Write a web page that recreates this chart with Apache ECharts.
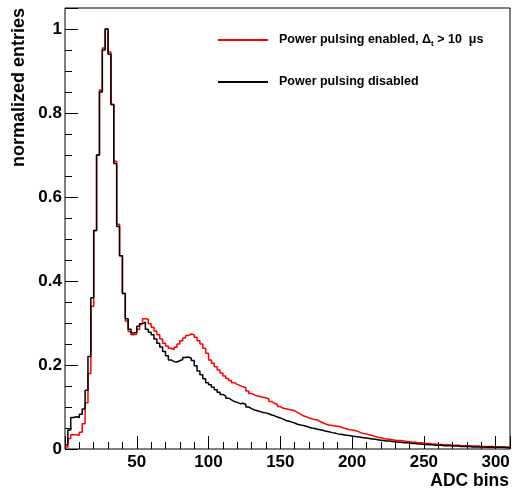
<!DOCTYPE html>
<html>
<head>
<meta charset="utf-8">
<style>
  html, body { margin: 0; padding: 0; background: #fff; }
  #chart { width: 514px; height: 492px; }
</style>
<script src="https://cdn.jsdelivr.net/npm/echarts@6/dist/echarts.min.js"></script>
</head>
<body>
<div id="chart"></div>
<script>
// ADC spectrum, histogram with 2-unit bins starting at 0
const binWidth = 2;
const xMin = 0;
const xMax = 310;
const yMax = 1.05;

const xTickValues = [50, 100, 150, 200, 250, 300];
const yTickValues = [0, 0.2, 0.4, 0.6, 0.8, 1];

// normalized entries per bin, power pulsing disabled
const disabledCounts = [
  0.010, 0.045, 0.075, 0.077, 0.075, 0.083, 0.095, 0.140, 0.220, 0.360,
  0.520, 0.700, 0.850, 0.950, 1.000, 0.940, 0.820, 0.680, 0.530, 0.460,
  0.370, 0.310, 0.285, 0.276, 0.278, 0.292, 0.298, 0.302, 0.285, 0.278,
  0.272, 0.262, 0.252, 0.243, 0.232, 0.222, 0.212, 0.208, 0.207, 0.210,
  0.213, 0.218, 0.219, 0.216, 0.211, 0.198, 0.186, 0.177, 0.167, 0.158,
  0.153, 0.147, 0.141, 0.135, 0.130, 0.126, 0.121, 0.117, 0.113, 0.111,
  0.108, 0.109, 0.106, 0.100, 0.096, 0.093, 0.091, 0.089, 0.087, 0.086,
  0.084, 0.081, 0.079, 0.076, 0.074, 0.071, 0.068, 0.066, 0.064, 0.062,
  0.059, 0.057, 0.056, 0.054, 0.052, 0.050, 0.049, 0.047, 0.046, 0.044,
  0.042, 0.041, 0.039, 0.038, 0.036, 0.035, 0.034, 0.033, 0.032, 0.031,
  0.030, 0.029, 0.028, 0.027, 0.026, 0.025, 0.024, 0.023, 0.022, 0.021,
  0.020, 0.019, 0.019, 0.018, 0.017, 0.016, 0.016, 0.015, 0.015, 0.014,
  0.013, 0.013, 0.012, 0.012, 0.011, 0.011, 0.010, 0.010, 0.009, 0.009,
  0.009, 0.008, 0.008, 0.008, 0.007, 0.007, 0.007, 0.006, 0.006, 0.006,
  0.006, 0.005, 0.005, 0.005, 0.005, 0.005, 0.004, 0.004, 0.004, 0.004,
  0.004, 0.004, 0.004, 0.003, 0.003
];

// normalized entries per bin, power pulsing enabled (Δt > 10 μs)
const enabledCounts = [
  0.005, 0.025, 0.034, 0.034, 0.033, 0.040, 0.060, 0.110, 0.180, 0.340,
  0.520, 0.700, 0.855, 0.955, 1.000, 0.945, 0.820, 0.685, 0.535, 0.460,
  0.370, 0.305, 0.280, 0.272, 0.274, 0.285, 0.298, 0.310, 0.309, 0.298,
  0.290, 0.281, 0.272, 0.262, 0.252, 0.245, 0.240, 0.237, 0.242, 0.250,
  0.258, 0.264, 0.270, 0.274, 0.272, 0.266, 0.258, 0.250, 0.240, 0.228,
  0.212, 0.204, 0.196, 0.188, 0.181, 0.174, 0.168, 0.163, 0.158, 0.154,
  0.151, 0.148, 0.146, 0.138, 0.132, 0.129, 0.126, 0.125, 0.123, 0.122,
  0.119, 0.113, 0.109, 0.106, 0.101, 0.097, 0.096, 0.094, 0.093, 0.091,
  0.087, 0.083, 0.079, 0.077, 0.074, 0.072, 0.070, 0.069, 0.065, 0.062,
  0.059, 0.057, 0.056, 0.055, 0.054, 0.053, 0.050, 0.048, 0.046, 0.045,
  0.044, 0.042, 0.039, 0.037, 0.036, 0.034, 0.032, 0.030, 0.028, 0.027,
  0.025, 0.024, 0.023, 0.022, 0.021, 0.020, 0.020, 0.019, 0.018, 0.017,
  0.016, 0.016, 0.015, 0.015, 0.014, 0.013, 0.013, 0.012, 0.012, 0.011,
  0.011, 0.010, 0.010, 0.010, 0.009, 0.009, 0.009, 0.008, 0.008, 0.008,
  0.008, 0.007, 0.007, 0.007, 0.006, 0.006, 0.006, 0.006, 0.006, 0.005,
  0.005, 0.005, 0.005, 0.005, 0.005
];

const seriesNames = ['Power pulsing enabled', 'Power pulsing disabled'];

// Turn bin contents into [lowEdge, value] pairs plus the closing edge
function histogramPoints(counts) {
  const pts = counts.map((v, i) => [xMin + i * binWidth, v]);
  pts.push([xMin + counts.length * binWidth, counts[counts.length - 1]]);
  return pts;
}

const FONT = '"Liberation Sans", Arial, Helvetica, sans-serif';

const chart = echarts.init(document.getElementById('chart'), null, { renderer: 'canvas' });

const labelStyle = { fontFamily: FONT, fontWeight: 'bold', fontSize: 17, color: '#000' };

chart.setOption({
  animation: false,
  backgroundColor: '#fff',
  grid: {
    left: 65, right: 4, top: 8, bottom: 43,
    show: true, borderColor: '#000', borderWidth: 1, backgroundColor: 'transparent'
  },
  legend: {
    orient: 'vertical',
    left: 218,
    top: 32,
    padding: 0,
    itemWidth: 50,
    itemHeight: 2,
    itemGap: 26,
    icon: 'rect',
    selectedMode: false,
    data: seriesNames,
    formatter: function (name) {
      if (name === seriesNames[0]) {
        return name + ', Δ{sub|t} > 10  μs';
      }
      return name;
    },
    textStyle: {
      fontFamily: FONT,
      fontWeight: 'bold',
      fontSize: 12.5,
      color: '#000',
      lineHeight: 16,
      padding: [0, 0, 0, 6],
      rich: {
        sub: { fontFamily: FONT, fontWeight: 'bold', fontSize: 8, color: '#000', verticalAlign: 'bottom', lineHeight: 16 }
      }
    }
  },
  xAxis: [
    {
      type: 'value', min: xMin, max: xMax, interval: 50, position: 'bottom',
      axisLine: { show: false },
      splitLine: { show: false },
      axisTick: { show: true, inside: true, length: 13, lineStyle: { color: '#000', width: 1 } },
      axisLabel: {
        ...labelStyle, margin: 5,
        formatter: v => (xTickValues.indexOf(v) >= 0 ? String(v) : '')
      }
    },
    {
      type: 'value', min: xMin, max: xMax, interval: 10, position: 'bottom',
      axisLine: { show: false },
      splitLine: { show: false },
      axisTick: { show: true, inside: true, length: 7, lineStyle: { color: '#000', width: 1 } },
      axisLabel: { show: false }
    }
  ],
  yAxis: [
    {
      type: 'value', min: 0, max: yMax, interval: 0.2, position: 'left',
      axisLine: { show: false },
      splitLine: { show: false },
      axisTick: { show: true, inside: true, length: 13, lineStyle: { color: '#000', width: 1 } },
      axisLabel: {
        ...labelStyle, margin: 3,
        formatter: v => {
          const r = Number(v.toFixed(2));
          return yTickValues.indexOf(r) >= 0 ? String(r) : '';
        }
      }
    },
    {
      type: 'value', min: 0, max: yMax, interval: 0.05, position: 'left',
      axisLine: { show: false },
      splitLine: { show: false },
      axisTick: { show: true, inside: true, length: 7, lineStyle: { color: '#000', width: 1 } },
      axisLabel: { show: false }
    }
  ],
  graphic: [
    {
      type: 'text', right: 5, top: 472,
      style: { text: 'ADC bins', font: 'bold 17.5px ' + FONT, fill: '#000' }
    },
    {
      type: 'text', x: 19, y: 8, rotation: Math.PI / 2,
      style: { text: 'normalized entries', font: 'bold 18px ' + FONT, fill: '#000', textAlign: 'right', textVerticalAlign: 'middle' }
    }
  ],
  series: [
    {
      name: seriesNames[0], type: 'line', step: 'end', symbol: 'none',
      xAxisIndex: 0, yAxisIndex: 0,
      color: '#ff0000',
      lineStyle: { color: '#ff0000', width: 1.5 },
      data: histogramPoints(enabledCounts),
      z: 2
    },
    {
      name: seriesNames[1], type: 'line', step: 'end', symbol: 'none',
      xAxisIndex: 0, yAxisIndex: 0,
      color: '#000000',
      lineStyle: { color: '#000000', width: 1.5 },
      data: histogramPoints(disabledCounts),
      z: 3
    }
  ]
});
</script>
</body>
</html>
